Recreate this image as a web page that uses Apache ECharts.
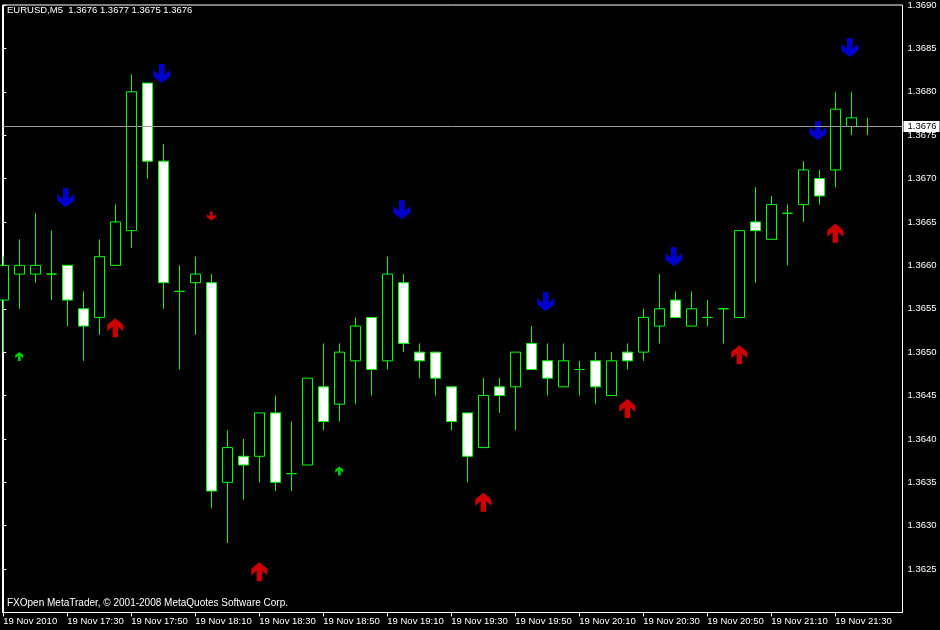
<!DOCTYPE html>
<html><head><meta charset="utf-8">
<script src="https://cdn.jsdelivr.net/npm/echarts@6/dist/echarts.min.js"></script>
<style>html,body{margin:0;padding:0;background:#000}#c{width:940px;height:630px}</style>
</head><body><div id="c"></div>
<script>
const times = ['17:10','17:15','17:20','17:25','17:30','17:35','17:40','17:45','17:50','17:55',
  '18:00','18:05','18:10','18:15','18:20','18:25','18:30','18:35','18:40','18:45',
  '18:50','18:55','19:00','19:05','19:10','19:15','19:20','19:25','19:30','19:35',
  '19:40','19:45','19:50','19:55','20:00','20:05','20:10','20:15','20:20','20:25',
  '20:30','20:35','20:40','20:45','20:50','20:55','21:00','21:05','21:10','21:15',
  '21:20','21:25','21:30','21:35','21:40'];
const opens = [1.3656,1.3659,1.3659,1.3659,1.3660,1.3655,1.3654,1.3660,1.3664,1.3681,
  1.3672,1.3657,1.3658,1.3658,1.3635,1.3638,1.3638,1.3643,1.3636,1.3637,
  1.3646,1.3644,1.3649,1.3654,1.3649,1.3658,1.3650,1.3650,1.3646,1.3643,
  1.3639,1.3646,1.3646,1.3651,1.3649,1.3646,1.3648,1.3649,1.3645,1.3650,
  1.3650,1.3653,1.3656,1.3653,1.3654,1.3655,1.3654,1.3665,1.3663,1.3666,
  1.3667,1.3670,1.3671,1.3676,1.3676];
const closes = [1.3660,1.3660,1.3660,1.3659,1.3656,1.3653,1.3661,1.3665,1.3680,1.3672,
  1.3658,1.3657,1.3659,1.3634,1.3639,1.3637,1.3643,1.3635,1.3636,1.3647,
  1.3642,1.3650,1.3653,1.3648,1.3659,1.3651,1.3649,1.3647,1.3642,1.3638,
  1.3645,1.3645,1.3650,1.3648,1.3647,1.3649,1.3648,1.3646,1.3649,1.3649,
  1.3654,1.3655,1.3654,1.3655,1.3654,1.3655,1.3664,1.3664,1.3667,1.3666,
  1.3671,1.3668,1.3678,1.3677,1.3676];
const lows = [1.3650,1.3655,1.3658,1.3656,1.3653,1.3649,1.3652,1.3660,1.3662,1.3670,
  1.3655,1.3648,1.3652,1.3632,1.3628,1.3633,1.3635,1.3634,1.3634,1.3637,
  1.3641,1.3642,1.3644,1.3645,1.3648,1.3650,1.3647,1.3645,1.3641,1.3635,
  1.3639,1.3643,1.3641,1.3648,1.3645,1.3646,1.3645,1.3644,1.3645,1.3648,
  1.3649,1.3651,1.3654,1.3653,1.3653,1.3651,1.3654,1.3658,1.3663,1.3660,
  1.3665,1.3667,1.3669,1.3675,1.3675];
const highs = [1.3661,1.3663,1.3666,1.3664,1.3660,1.3657,1.3663,1.3667,1.3682,1.3681,
  1.3674,1.3660,1.3661,1.3659,1.3641,1.3640,1.3643,1.3645,1.3642,1.3647,
  1.3651,1.3651,1.3654,1.3654,1.3661,1.3659,1.3651,1.3650,1.3646,1.3643,
  1.3647,1.3647,1.3650,1.3653,1.3651,1.3651,1.3649,1.3650,1.3650,1.3651,
  1.3655,1.3659,1.3657,1.3657,1.3656,1.3655,1.3664,1.3669,1.3668,1.3667,
  1.3672,1.3671,1.3680,1.3680,1.3677];

const tickIdx = [0,4,8,12,16,20,24,28,32,36,40,44,48,52];
const tickLabels = ['19 Nov 2010','19 Nov 17:30','19 Nov 17:50','19 Nov 18:10','19 Nov 18:30',
  '19 Nov 18:50','19 Nov 19:10','19 Nov 19:30','19 Nov 19:50','19 Nov 20:10','19 Nov 20:30',
  '19 Nov 20:50','19 Nov 21:10','19 Nov 21:30'];

const blueDownIdx = [4,10,25,34,42,51,53];
const blueDownPrice = [1.36678,1.36821,1.36664,1.36558,1.36610,1.36755,1.36851];
const redUpIdx = [7,16,30,39,46,52];
const redUpPrice = [1.36528,1.36247,1.36327,1.36435,1.36497,1.36637];
const greenUpIdx = [1,21];
const greenUpPrice = [1.36495,1.36363];
const redDownIdx = [13];
const redDownPrice = [1.36657];

const lastPrice = closes[closes.length - 1];
const titleText = 'EURUSD,M5  1.3676 1.3677 1.3675 1.3676';
const footerText = 'FXOpen MetaTrader, \u00a9 2001-2008 MetaQuotes Software Corp.';

const FONT = '"Liberation Sans", Arial, sans-serif';
const UP = 'path://M8,0 L16,6.5 L16,13 L10.7,8.5 L10.7,19 L5.3,19 L5.3,8.5 L0,13 L0,6.5 Z';
const DOWN = 'path://M8,19 L16,12.5 L16,6 L10.7,10.5 L10.7,0 L5.3,0 L5.3,10.5 L0,6 L0,12.5 Z';

const candles = times.map((t, i) => [i, opens[i], closes[i], lows[i], highs[i]]);
const pts = (idx, pr) => idx.map((k, i) => [k, pr[i]]);

const chart = echarts.init(document.getElementById('c'), null, {renderer: 'canvas'});
chart.setOption({
  animation: false,
  backgroundColor: '#000',
  title: [
    {text: titleText, left: 7, top: 5, padding: 0, textStyle: {color: '#fff', fontSize: 9.5, fontWeight: 'normal', fontFamily: FONT}},
    {text: footerText, left: 7, top: 598, padding: 0, textStyle: {color: '#fff', fontSize: 10, fontWeight: 'normal', fontFamily: FONT}}
  ],
  grid: {left: 2.5, right: 37.5, top: 2.5, bottom: 17.5, show: true, borderColor: '#fff', borderWidth: 1, backgroundColor: '#000'},
  xAxis: {
    type: 'value', min: -0.05, max: 56.2,
    axisLine: {show: true, lineStyle: {color: '#fff'}},
    splitLine: {show: false},
    axisTick: {show: true, length: 4, lineStyle: {color: '#fff'}, customValues: tickIdx},
    axisLabel: {
      customValues: tickIdx, color: '#fff', fontSize: 9.5, fontFamily: FONT, margin: 4, align: 'left',
      formatter: v => tickLabels[tickIdx.indexOf(Math.round(v))] || ''
    }
  },
  yAxis: {
    type: 'value', position: 'right', min: 1.3620, max: 1.3690, interval: 0.0005, scale: true,
    axisLine: {show: true, lineStyle: {color: '#fff'}},
    splitLine: {show: false},
    axisTick: {show: true, length: 3, lineStyle: {color: '#fff'}},
    axisLabel: {color: '#fff', fontSize: 9.5, fontFamily: FONT, margin: 5, showMinLabel: false,
      formatter: v => v.toFixed(4)}
  },
  series: [
    {
      type: 'candlestick',
      data: candles,
      encode: {x: 0, y: [1, 2, 3, 4]},
      barWidth: 10,
      itemStyle: {color: '#000', color0: '#fff', borderColor: '#00ff00', borderColor0: '#00ff00', borderWidth: 1}
    },
    {type: 'scatter', data: pts(blueDownIdx, blueDownPrice), symbol: DOWN, symbolSize: [17, 19], symbolOffset: [-1.5, 0], itemStyle: {color: '#0000ff'}, z: 3},
    {type: 'scatter', data: pts(redUpIdx, redUpPrice), symbol: UP, symbolSize: [16, 19], itemStyle: {color: '#ff0000'}, z: 3,
      markLine: {
        silent: true, symbol: ['none', 'none'], animation: false, precision: 4,
        lineStyle: {color: '#9a9a9a', width: 1, type: 'solid'},
        label: {show: true, position: 'end', distance: 1, color: '#000', backgroundColor: '#fff',
          padding: [1, 3, 0, 4], lineHeight: 10, fontSize: 9.5, fontFamily: FONT, formatter: () => lastPrice.toFixed(4)},
        data: [{yAxis: lastPrice}]
      }
    },
    {type: 'scatter', data: pts(greenUpIdx, greenUpPrice), symbol: UP, symbolSize: [8, 9], itemStyle: {color: '#00ff00'}, z: 3},
    {type: 'scatter', data: pts(redDownIdx, redDownPrice), symbol: DOWN, symbolSize: [9, 9], itemStyle: {color: '#ff0000'}, z: 3}
  ]
});
</script>
</body></html>
